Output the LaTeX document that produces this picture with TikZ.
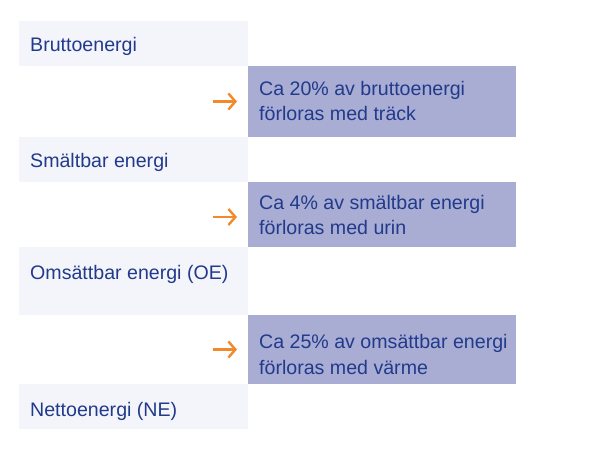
\documentclass[tikz,border=0pt]{standalone}
\usepackage{fontspec}
\setmainfont{Liberation Sans}
\usetikzlibrary{arrows.meta,calc}
\definecolor{leftbg}{HTML}{F4F5FA}
\definecolor{lossbg}{HTML}{A9ADD3}
\definecolor{txtblue}{HTML}{213A8C}
\definecolor{arrorange}{HTML}{F08A2A}
\begin{document}
\begin{tikzpicture}[x=1pt,y=-1pt,
  stage/.style={fill=leftbg, draw=none, inner sep=0, anchor=north west, minimum width=229pt},
  loss/.style={fill=lossbg, draw=none, inner sep=0, anchor=north west, minimum width=268pt},
  lbl/.style={anchor=base west, inner sep=0, text=txtblue, align=left, font=\fontsize{19.6}{25.5}\selectfont},
  lossarrow/.style={draw=arrorange, line width=2.4pt, -{Straight Barb[length=7pt,width=16pt]}, shorten >=11pt}]
\useasboundingbox (0,0) rectangle (613,457);
% stages
\node[stage, minimum height=45pt] (s1) at (19,21) {};
\node[stage, minimum height=45pt] (s2) at (19,137) {};
\node[stage, minimum height=68pt] (s3) at (19,247) {};
\node[stage, minimum height=45pt] (s4) at (19,384) {};
% losses
\node[loss, minimum height=71pt] (p1) at (248,66) {};
\node[loss, minimum height=65pt] (p2) at (248,182) {};
\node[loss, minimum height=69pt] (p3) at (248,315) {};
% texts
\node[lbl] (t1) at (30,52) {Bruttoenergi};
\node[lbl] (t2) at (30,167.7) {Smältbar energi};
\node[lbl] (t3) at (30,279.3) {Omsättbar energi (OE)};
\node[lbl] (t4) at (30,416) {Nettoenergi (NE)};
\node[lbl] (l1) at (259,121) {Ca 20\% av bruttoenergi\\förloras med träck};
\node[lbl] (l2) at (259,235) {Ca 4\% av smältbar energi\\förloras med urin};
\node[lbl] (l3) at (259,374) {Ca 25\% av omsättbar energi\\förloras med värme};
% arrows
\coordinate (a1) at (213,101.5);
\coordinate (a2) at (213,217);
\coordinate (a3) at (213,349.5);
\draw[lossarrow] (a1) -- (a1 -| p1.west);
\draw[lossarrow] (a2) -- (a2 -| p2.west);
\draw[lossarrow] (a3) -- (a3 -| p3.west);
\end{tikzpicture}
\end{document}
